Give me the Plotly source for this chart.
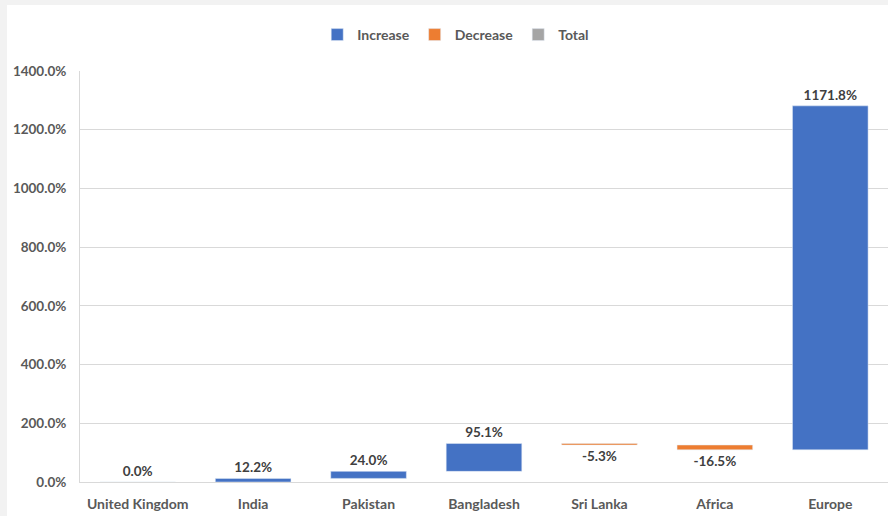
import plotly.graph_objects as go

# Waterfall of percentage changes by region
categories = ["United Kingdom", "India", "Pakistan", "Bangladesh", "Sri Lanka", "Africa", "Europe"]
changes = [0.0, 12.2, 24.0, 95.1, -5.3, -16.5, 1171.8]
y_ticks = [0, 200, 400, 600, 800, 1000, 1200, 1400]

BLUE = "#4472C4"
ORANGE = "#ED7D31"
GREY = "#A5A5A5"
TEXT = "#595959"
FONT = "Lato"

# running totals: each step starts where the previous ended
bases = []
running = 0.0
for v in changes:
    bases.append(running)
    running += v

inc_x = [c for c, v in zip(categories, changes) if v >= 0]
inc_y = [v for v in changes if v >= 0]
inc_b = [b for b, v in zip(bases, changes) if v >= 0]
dec_x = [c for c, v in zip(categories, changes) if v < 0]
dec_y = [v for v in changes if v < 0]
dec_b = [b for b, v in zip(bases, changes) if v < 0]

label_font = dict(family=FONT, size=13.5, color="#404040", weight="bold")

fig = go.Figure()
fig.add_trace(go.Bar(
    name="Increase", x=inc_x, y=inc_y, base=inc_b, marker_color=BLUE,
    text=[f"{v:.1f}%" for v in inc_y], textposition="outside",
    textfont=label_font, cliponaxis=False,
))
fig.add_trace(go.Bar(
    name="Decrease", x=dec_x, y=dec_y, base=dec_b, marker_color=ORANGE,
    text=[f"{v:.1f}%" for v in dec_y], textposition="outside",
    textfont=label_font, cliponaxis=False,
))
fig.add_trace(go.Bar(
    name="Total", x=[categories[0]], y=[None], marker_color=GREY,
))

fig.update_layout(
    width=888, height=516,
    margin=dict(l=80, r=0, t=71, b=34),
    paper_bgcolor="#F2F2F2",
    plot_bgcolor="white",
    barmode="overlay",
    bargap=0.345,
    showlegend=True,
    legend=dict(
        orientation="h", x=0.465, xanchor="center", y=1.0876, yanchor="middle",
        font=dict(family=FONT, size=14, color=TEXT, weight="bold"),
        traceorder="normal", itemwidth=30, bgcolor="rgba(0,0,0,0)",
    ),
    font=dict(family=FONT, color=TEXT),
    shapes=[dict(
        type="rect", xref="paper", yref="paper", layer="below",
        x0=(7 - 80) / 808, x1=1.01, y0=(482 - 520) / 411, y1=(482 - 5) / 411,
        fillcolor="white", line_width=0,
    )],
)
fig.update_xaxes(
    categoryorder="array", categoryarray=categories,
    showline=True, linecolor="#D9D9D9", linewidth=1,
    tickfont=dict(family=FONT, size=14, color=TEXT, weight="bold"),
    ticks="", ticklabelstandoff=9,
)
fig.update_yaxes(
    range=[0, 1400], tickvals=y_ticks, ticktext=[f"{t:.1f}%" for t in y_ticks],
    showgrid=True, gridcolor="#D9D9D9", gridwidth=1,
    showline=True, linecolor="#D9D9D9", linewidth=1,
    zeroline=False,
    tickfont=dict(family=FONT, size=13.5, color=TEXT, weight="bold"),
    ticks="", ticklabelstandoff=10,
)

fig.write_html("out.html")
